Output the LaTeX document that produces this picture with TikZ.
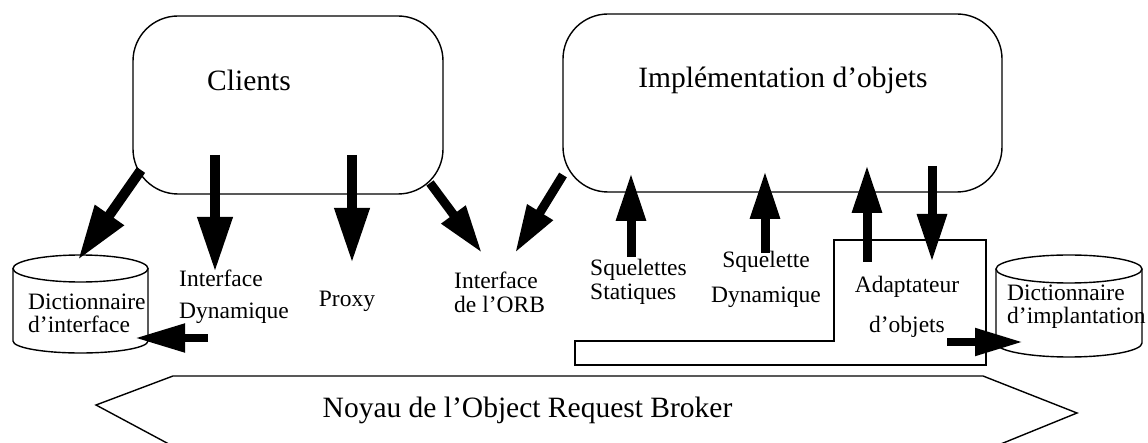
\documentclass[tikz,border=0pt]{standalone}
\usepackage{fontspec}
\setmainfont{Liberation Serif}
\usetikzlibrary{arrows.meta}
\begin{document}
\begin{tikzpicture}[x=1pt,y=-1pt,
  box/.style={draw, line width=1.4pt},
  bigarrow/.style={line width=10pt, -{Triangle[length=55pt,width=33pt]}},
  medarrow/.style={line width=9pt, -{Triangle[length=48pt,width=28pt]}},
  smalltext/.style={inner sep=0pt, font=\fontsize{23.5}{23.5}\selectfont},
  largetext/.style={inner sep=0pt, font=\fontsize{29.5}{30}\selectfont}]
\clip (0,0) rectangle (1148,443);
% main boxes
\node[box, rounded corners=45pt, minimum width=310pt, minimum height=178pt] (clients) at (288,105) {};
\node[largetext] (clientsT) at (249,80) {Clients};
\node[box, rounded corners=45pt, minimum width=439pt, minimum height=178pt] (impl) at (782.5,103) {};
\node[largetext] (implT) at (783,80) {Implémentation d’objets};
% ORB core
\draw[box] (96,405) -- (173,376) -- (983,376) -- (1077,413) -- (986,450) -- (180,450) -- cycle;
\node[largetext] (noyau) at (527.5,410) {Noyau de l’Object Request Broker};
% object adapter frame
\draw[box] (575,341) -- (834,341) -- (834,240) -- (986,240) -- (986,365) -- (575,365) -- cycle;
\node[smalltext, align=center, font=\fontsize{23.5}{40}\selectfont] (adapt) at (907,307) {Adaptateur\\d’objets};
% cylinders
\draw[box] (80.5,268.5) ellipse [x radius=67.5pt, y radius=13.5pt];
\draw[box] (13,268.5) -- (13,341) arc[start angle=180, end angle=360, x radius=67.5pt, y radius=12pt] -- (148,268.5);
\node[smalltext, align=left, anchor=west] (dictI) at (28,313.5) {Dictionnaire\\d’interface};
\draw[box] (1069,269) ellipse [x radius=73pt, y radius=14pt];
\draw[box] (996,269) -- (996,343) arc[start angle=180, end angle=360, x radius=73pt, y radius=14pt] -- (1142,269);
\node[smalltext, align=left, anchor=west] (dictP) at (1007,306.5) {Dictionnaire\\d’implantation};
% labels
\node[smalltext, align=left, anchor=west, font=\fontsize{23.5}{32}\selectfont] (dyn) at (179,297) {Interface\\Dynamique};
\node[smalltext] (proxy) at (347,301) {Proxy};
\node[smalltext, align=left, anchor=west] (orb) at (454,292.5) {Interface\\de l’ORB};
\node[smalltext, align=left, anchor=west, font=\fontsize{23.5}{24}\selectfont] (sqs) at (590,282) {Squelettes\\Statiques};
\node[smalltext, align=center, font=\fontsize{23.5}{35}\selectfont] (sqd) at (766,279.5) {Squelette\\Dynamique};
% arrow end points
\coordinate (c1) at (141,170);  \coordinate (dI) at (78,260);
\coordinate (c2) at (215,155);  \coordinate (dynT) at (215,272);
\coordinate (c3) at (352,155);  \coordinate (proxyT) at (352,263);
\coordinate (c4) at (430,183);  \coordinate (orbL) at (482,253);
\coordinate (i5) at (563,175);  \coordinate (orbR) at (515,253);
\coordinate (sqsT) at (631,257); \coordinate (i6) at (631,173);
\coordinate (sqdT) at (765,253); \coordinate (i7) at (765,171);
\coordinate (adU) at (867,262); \coordinate (i8) at (867,165);
\coordinate (i9) at (932,166);  \coordinate (adD) at (932,262);
\coordinate (dynL) at (208,338); \coordinate (dIr) at (135,338);
\coordinate (adR) at (947,342); \coordinate (dPl) at (1023,342);
% arrows
\draw[bigarrow] (c1) -- (dI);
\draw[bigarrow] (c2) -- (dynT);
\draw[bigarrow] (c3) -- (proxyT);
\draw[medarrow] (c4) -- (orbL);
\draw[medarrow] (i5) -- (orbR);
\draw[medarrow] (sqsT) -- (i6);
\draw[medarrow] (sqdT) -- (i7);
\draw[medarrow] (adU) -- (i8);
\draw[medarrow] (i9) -- (adD);
\draw[line width=8pt, -{Triangle[length=50pt,width=27pt]}] (dynL) -- (dIr);
\draw[line width=8pt, -{Triangle[length=48pt,width=26pt]}] (adR) -- (dPl);
\end{tikzpicture}
\end{document}
